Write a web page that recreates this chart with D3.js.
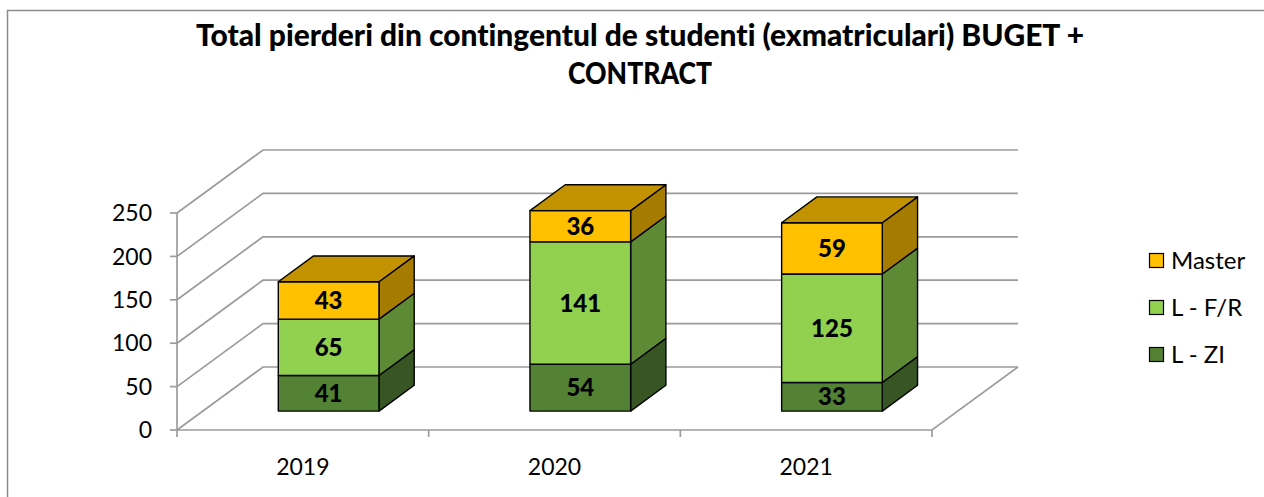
<!DOCTYPE html>
<html>
<head>
<meta charset="utf-8">
<script src="https://cdn.jsdelivr.net/npm/d3@7"></script>
<style>
  html, body { margin: 0; padding: 0; background: #fff; }
  svg { display: block; }
  text { font-variant-ligatures: none; font-feature-settings: "liga" 0, "clig" 0, "calt" 0, "dlig" 0; }
</style>
</head>
<body>
<svg id="chart" width="1264" height="497"></svg>
<script>
const categories = ["2019", "2020", "2021"];
const seriesNames = ["L - ZI", "L - F/R", "Master"];
const lzi = [41, 54, 33];
const lfr = [65, 141, 125];
const master = [43, 36, 59];
const yTicks = [0, 50, 100, 150, 200, 250];
const titleLines = ["Total pierderi din contingentul de studenti (exmatriculari) BUGET +", "CONTRACT"];

const colors = {
  "L - ZI": { front: "#548235", side: "#375623", top: "#44692b" },
  "L - F/R": { front: "#92D050", side: "#5F8A35", top: "#74a640" },
  "Master": { front: "#FFC000", side: "#A67C00", top: "#C29200" }
};

const svg = d3.select("#chart");
const FONT = "Lato, 'Open Sans', sans-serif";

// chart border
svg.append("rect").attr("x", 7.5).attr("y", 10.5).attr("width", 1270).attr("height", 500)
  .attr("fill", "none").attr("stroke", "#8c8c8c").attr("stroke-width", 1.5);

// title
svg.append("text").attr("x", 640).attr("y", 46).attr("text-anchor", "middle")
  .attr("font-family", FONT).attr("font-weight", "900").attr("font-size", 30)
  .style("font-variant-ligatures", "none")
  .attr("textLength", 888).attr("lengthAdjust", "spacingAndGlyphs")
  .text(titleLines[0]);
svg.append("text").attr("x", 640).attr("y", 84).attr("text-anchor", "middle")
  .attr("font-family", FONT).attr("font-weight", "900").attr("font-size", 30)
  .attr("textLength", 144).attr("lengthAdjust", "spacingAndGlyphs")
  .text(titleLines[1]);

// scales (front plane)
const x = d3.scaleBand().domain(categories).range([177, 932]).paddingInner(0.6).paddingOuter(0.3);
const xc = d3.scaleBand().domain(categories).range([177, 932]);
const y = d3.scaleLinear().domain([0, 250]).range([430, 213]);
const DX = 86, DY = -63; // full depth offset
const proj = (px, py, d) => [px + DX * d, py + DY * d];

const gridColor = "#9c9c9c";
const GW = 1.7;
const g = svg.append("g");

yTicks.forEach(t => {
  const p0 = [177, y(t)];
  const p1 = proj(177, y(t), 1);
  const p2 = proj(932, y(t), 1);
  g.append("polyline").attr("points", [p0, p1, p2].map(p => p.join(",")).join(" "))
    .attr("fill", "none").attr("stroke", gridColor).attr("stroke-width", GW);
});
{
  const a = [177, y(0)], b = [932, y(0)], c = proj(932, y(0), 1);
  g.append("polyline").attr("points", [a, b, c].map(p => p.join(",")).join(" "))
    .attr("fill", "none").attr("stroke", gridColor).attr("stroke-width", GW);
}
g.append("line").attr("x1", 177).attr("x2", 177).attr("y1", y(250)).attr("y2", y(0))
  .attr("stroke", gridColor).attr("stroke-width", GW);
yTicks.forEach(t => {
  g.append("line").attr("x1", 170).attr("x2", 177).attr("y1", y(t)).attr("y2", y(t))
    .attr("stroke", gridColor).attr("stroke-width", GW);
  g.append("text").attr("x", 152).attr("y", y(t)).attr("dy", "0.36em").attr("text-anchor", "end")
    .attr("font-family", FONT).attr("font-size", 23).attr("fill", "#000").text(t);
});
const tickXs = categories.map(c => xc(c)).concat([xc(categories[categories.length - 1]) + xc.bandwidth()]);
tickXs.forEach(tx => {
  g.append("line").attr("x1", tx).attr("x2", tx).attr("y1", y(0)).attr("y2", y(0) + 7)
    .attr("stroke", gridColor).attr("stroke-width", GW);
});
categories.forEach(c => {
  g.append("text").attr("x", xc(c) + xc.bandwidth() / 2).attr("y", 475).attr("text-anchor", "middle")
    .attr("font-family", FONT).attr("font-size", 23).attr("fill", "#000").text(c);
});

// bars
const D0 = 0.30, D1 = 0.71;
const seriesData = { "L - ZI": lzi, "L - F/R": lfr, "Master": master };
const bars = svg.append("g");
categories.forEach((c, i) => {
  let base = 0;
  seriesNames.forEach((s, si) => {
    const v = seriesData[s][i];
    const x0 = x(c), x1 = x(c) + x.bandwidth();
    const yb = y(base), yt = y(base + v);
    const f = (px, py, d) => proj(px, py, d);
    const front = [f(x0, yb, D0), f(x1, yb, D0), f(x1, yt, D0), f(x0, yt, D0)];
    const side = [f(x1, yb, D0), f(x1, yb, D1), f(x1, yt, D1), f(x1, yt, D0)];
    const top = [f(x0, yt, D0), f(x1, yt, D0), f(x1, yt, D1), f(x0, yt, D1)];
    const poly = (pts, fill) => bars.append("polygon")
      .attr("points", pts.map(p => p.join(",")).join(" "))
      .attr("fill", fill).attr("stroke", "#000").attr("stroke-width", 1.4).attr("stroke-linejoin", "round");
    poly(side, colors[s].side);
    poly(front, colors[s].front);
    if (si === seriesNames.length - 1) poly(top, colors[s].top);
    const cx = (front[0][0] + front[1][0]) / 2;
    const cy = (front[0][1] + front[2][1]) / 2;
    bars.append("text").attr("x", cx).attr("y", cy).attr("dy", "0.36em").attr("text-anchor", "middle")
      .attr("font-family", FONT).attr("font-weight", "900").attr("font-size", 24).attr("fill", "#000")
      .text(v);
    base += v;
  });
});

// legend
const legendItems = ["Master", "L - F/R", "L - ZI"];
const legendY = [260, 307, 354];
legendItems.forEach((s, i) => {
  svg.append("rect").attr("x", 1149.5).attr("y", legendY[i] - 6.5).attr("width", 14).attr("height", 14)
    .attr("fill", colors[s].front).attr("stroke", "#000").attr("stroke-width", 1.2);
  svg.append("text").attr("x", 1171).attr("y", legendY[i]).attr("dy", "0.36em")
    .attr("font-family", FONT).attr("font-size", 24).attr("fill", "#000").text(s);
});
</script>
</body>
</html>
